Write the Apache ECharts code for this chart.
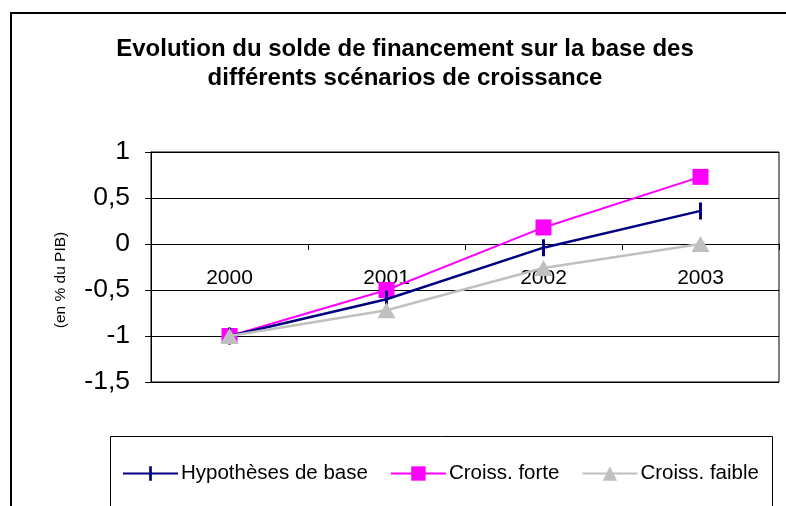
<!DOCTYPE html>
<html>
<head>
<meta charset="utf-8">
<script src="https://cdn.jsdelivr.net/npm/echarts@6/dist/echarts.min.js"></script>
<style>
  html, body { margin: 0; padding: 0; background: #fff; }
  #main { width: 786px; height: 506px; }
</style>
</head>
<body>
<div id="main"></div>
<script>
const years = ['2000', '2001', '2002', '2003']
const hypBase = [-1, -0.6, -0.04, 0.36]
const croissForte = [-1, -0.5, 0.18, 0.73]
const croissFaible = [-1, -0.72, -0.26, 0]
const yTicks = [-1.5, -1, -0.5, 0, 0.5, 1]

const FONT = '"Liberation Sans", Arial, sans-serif'

// plot area: y from 152 (top) to 382 (bottom), x-axis drawn on the 0 line
const plotTop = 152, plotBottom = 382
const zeroOffset = (plotBottom - plotTop) * (0 - yTicks[0]) / (yTicks[yTicks.length - 1] - yTicks[0])

// vertical dash marker; the two tiny corner triangles only keep the box square
const DASH = 'path://M0,0L0.05,0L0,0.05Z M16,16L15.95,16L16,15.95Z M6.5,0L9.5,0L9.5,16L6.5,16Z'

let myChart = echarts.init(document.getElementById('main'))

let option = {
    backgroundColor: '#fff',
    animation: false,
    title: {
        text: 'Evolution du solde de financement sur la base des\ndifférents scénarios de croissance',
        left: 400,
        top: 30,
        textAlign: 'center',
        textStyle: {
            fontFamily: FONT,
            fontWeight: 'bold',
            fontSize: 24,
            lineHeight: 29,
            color: '#000'
        }
    },
    graphic: [{
        type: 'rect',
        shape: { x: 11, y: 13, width: 800, height: 520 },
        style: { fill: null, stroke: '#000', lineWidth: 2 },
        silent: true
    }, {
        type: 'rect',
        shape: { x: 110.5, y: 436.5, width: 662, height: 100 },
        style: { fill: null, stroke: '#000', lineWidth: 1 },
        silent: true
    }],
    legend: {
        left: 122,
        top: 463,
        padding: 0,
        itemWidth: 55,
        itemHeight: 18,
        itemGap: 22,
        textStyle: { fontFamily: FONT, fontSize: 20.5, color: '#000', padding: [0, 0, 0, -2] },
        data: ['Hypothèses de base', 'Croiss. forte', 'Croiss. faible']
    },
    grid: {
        left: 151,
        right: 7,
        top: plotTop,
        bottom: 506 - plotBottom,
        show: true,
        borderColor: '#000',
        borderWidth: 1
    },
    xAxis: {
        type: 'category',
        data: years,
        boundaryGap: true,
        offset: -zeroOffset,
        axisLine: { onZero: false, lineStyle: { color: '#000', width: 1 } },
        axisTick: { show: true, length: 6, inside: false, lineStyle: { color: '#000' } },
        axisLabel: { margin: 24, fontFamily: FONT, fontSize: 21, color: '#000' }
    },
    yAxis: {
        type: 'value',
        min: yTicks[0],
        max: yTicks[yTicks.length - 1],
        interval: 0.5,
        name: '(en % du PIB)',
        nameLocation: 'middle',
        nameGap: 82,
        nameRotate: 90,
        nameTextStyle: { fontFamily: FONT, fontSize: 15.5, color: '#000', padding: [0, 26, 0, 0] },
        axisLine: { show: true, lineStyle: { color: '#000', width: 1 } },
        axisTick: { show: true, length: 6, lineStyle: { color: '#000' } },
        axisLabel: {
            margin: 21,
            fontFamily: FONT,
            fontSize: 26.5,
            color: '#000',
            formatter: v => String(v).replace('.', ',')
        },
        splitLine: { show: true, lineStyle: { color: '#000', width: 1 } }
    },
    series: [{
        name: 'Hypothèses de base',
        type: 'line',
        data: hypBase,
        color: '#000080',
        lineStyle: { width: 2.5, color: '#000080' },
        symbol: DASH,
        symbolSize: [16, 17],
        itemStyle: { color: '#000080' },
        z: 4
    }, {
        name: 'Croiss. forte',
        type: 'line',
        data: croissForte,
        color: '#ff00ff',
        lineStyle: { width: 2, color: '#ff00ff' },
        symbol: 'rect',
        symbolSize: 16,
        itemStyle: { color: '#ff00ff' },
        z: 3
    }, {
        name: 'Croiss. faible',
        type: 'line',
        data: croissFaible,
        color: '#c0c0c0',
        lineStyle: { width: 2.5, color: '#c0c0c0' },
        symbol: 'triangle',
        symbolSize: [18, 16],
        itemStyle: { color: '#c0c0c0' },
        z: 5
    }]
}

myChart.setOption(option)
</script>
</body>
</html>
